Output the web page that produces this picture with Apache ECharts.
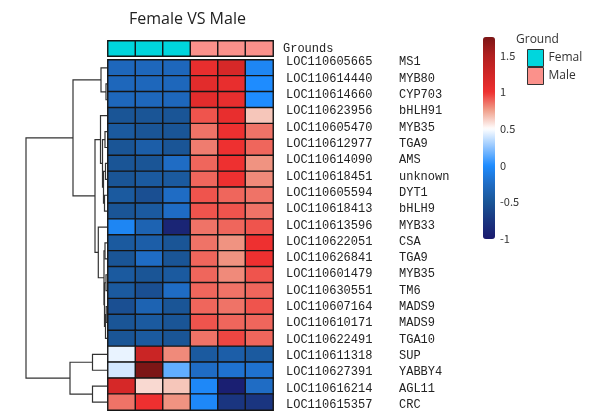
<!DOCTYPE html>
<html><head><meta charset="utf-8">
<script src="https://cdn.jsdelivr.net/npm/echarts@6/dist/echarts.min.js"></script>
<style>html,body{margin:0;padding:0;background:#fff}#c{width:600px;height:413px}</style>
</head><body><div id="c"></div>
<script>
// ---- data ----
const samples = ['F1', 'F2', 'F3', 'M1', 'M2', 'M3'];
const sampleGroups = ['Femal', 'Femal', 'Femal', 'Male', 'Male', 'Male'];
const groupNames = ['Femal', 'Male'];
const geneIds = ['LOC110605665','LOC110614440','LOC110614660','LOC110623956','LOC110605470','LOC110612977','LOC110614090','LOC110618451','LOC110605594','LOC110618413','LOC110613596','LOC110622051','LOC110626841','LOC110601479','LOC110630551','LOC110607164','LOC110610171','LOC110622491','LOC110611318','LOC110627391','LOC110616214','LOC110615357'];
const geneNames = ['MS1','MYB80','CYP703','bHLH91','MYB35','TGA9','AMS','unknown','DYT1','bHLH9','MYB33','CSA','TGA9','MYB35','TM6','MADS9','MADS9','TGA10','SUP','YABBY4','AGL11','CRC'];
const expr = [
  [-0.3, -0.3, -0.3, 1.05, 1.2, -0.05],
  [-0.3, -0.3, -0.3, 1.1, 1.05, 0.0],
  [-0.3, -0.3, -0.3, 1.1, 1.05, 0.0],
  [-0.5, -0.5, -0.5, 0.92, 1.05, 0.65],
  [-0.45, -0.5, -0.5, 0.85, 1.0, 0.85],
  [-0.5, -0.4, -0.5, 0.83, 1.0, 0.88],
  [-0.5, -0.5, -0.25, 0.88, 1.0, 0.78],
  [-0.5, -0.45, -0.45, 0.88, 1.0, 0.8],
  [-0.45, -0.55, -0.25, 0.92, 0.88, 0.85],
  [-0.5, -0.45, -0.25, 0.92, 0.92, 0.85],
  [-0.05, -0.35, -0.9, 0.85, 0.88, 0.92],
  [-0.45, -0.4, -0.5, 0.85, 0.78, 1.0],
  [-0.5, -0.25, -0.5, 0.88, 0.78, 1.0],
  [-0.45, -0.5, -0.45, 0.88, 0.8, 0.92],
  [-0.45, -0.55, -0.25, 0.88, 0.85, 0.88],
  [-0.55, -0.35, -0.5, 0.88, 0.85, 0.92],
  [-0.5, -0.45, -0.5, 0.92, 0.88, 0.88],
  [-0.5, -0.45, -0.5, 0.85, 0.95, 0.88],
  [0.45, 1.3, 0.8, -0.45, -0.4, -0.45],
  [0.4, 1.75, 0.15, -0.25, -0.2, -0.2],
  [1.2, 0.6, 0.65, -0.03, -0.95, -0.25],
  [0.85, 1.0, 0.78, -0.03, -0.75, -0.75]
];
// row dendrogram: leaves are row indices, h = merge height
const rowTree = {h: 8.1, c: [
  {h: 3.4, c: [
    {h: 0.6, c: [0, {h: 0.1, c: [1, 2]}]},
    {h: 1.2, c: [
      {h: 0.65, c: [3, {h: 0.45, c: [{h: 0.2, c: [4, 5]}, {h: 0.35, c: [{h: 0.15, c: [6, 7]}, {h: 0.25, c: [8, 9]}]}]}]},
      {h: 0.87, c: [10, {h: 0.3, c: [{h: 0.2, c: [11, 12]}, {h: 0.25, c: [{h: 0.1, c: [13, 14]}, {h: 0.15, c: [{h: 0.08, c: [15, 16]}, 17]}]}]}]}
    ]}
  ]},
  {h: 3.7, c: [{h: 1.45, c: [18, 19]}, {h: 1.45, c: [20, 21]}]}
]};
const scaleMin = -1, scaleMax = 1.75;
const scaleTicks = [-1, -0.5, 0, 0.5, 1, 1.5];
const scaleColors = ['#1a1a6e','#1a3580','#1a5596','#1f6cc4','#1e8cff','#90c4ff','#ffffff','#f0a08c','#ee3030','#d02626','#b02020','#7c1616'];
const groupColors = {Femal: '#00d6dd', Male: '#fb918b'};

// ---- build ----
const heatData = [];
expr.forEach((row, r) => row.forEach((v, c) => heatData.push([c, r, v])));

const segs = [];
function layout(node) {
  if (typeof node === 'number') return {y: node, h: 0};
  const a = layout(node.c[0]), b = layout(node.c[1]);
  segs.push([[a.h, a.y], [node.h, a.y], [node.h, b.y], [b.h, b.y]]);
  return {y: (a.y + b.y) / 2, h: node.h};
}
layout(rowTree);

const mono = 'Liberation Mono';
const hidden = {show: false};
const chart = echarts.init(document.getElementById('c'));
chart.setOption({
  animation: false,
  backgroundColor: '#fff',
  title: [
    {text: 'Female VS Male', left: 129, top: 11, padding: 0,
     textStyle: {fontSize: 16, fontWeight: 'normal', fontFamily: 'Open Sans', color: '#222'}},
    {text: 'Ground', left: 516, top: 34, padding: 0,
     textStyle: {fontSize: 12, fontWeight: 'normal', fontFamily: 'Open Sans', color: '#333'}}
  ],
  legend: {
    data: groupNames, orient: 'vertical', left: 527, top: 49, padding: 0,
    itemWidth: 16, itemHeight: 17, itemGap: 0, icon: 'rect', selectedMode: false,
    itemStyle: {borderColor: '#333', borderWidth: 1},
    textStyle: {fontSize: 12, fontFamily: 'Open Sans', color: '#333'}
  },
  visualMap: {
    type: 'continuous', seriesIndex: 0, min: scaleMin, max: scaleMax,
    calculable: false, hoverLink: false, show: true, orient: 'vertical',
    left: 483, top: 37, itemWidth: 12, itemHeight: 202, padding: 0,
    inRange: {color: scaleColors}
  },
  grid: [
    {left: 6, top: 60, width: 101, height: 350},
    {left: 108, top: 60, width: 165, height: 350},
    {left: 108, top: 41, width: 165, height: 15},
    {left: 108, top: 54, width: 165, height: 360},
    {left: 483, top: 37, width: 12, height: 202}
  ],
  xAxis: [
    {gridIndex: 0, type: 'value', min: 0, max: 10.1, inverse: true, show: false},
    {gridIndex: 1, type: 'category', data: samples, show: false},
    {gridIndex: 2, type: 'category', data: samples, show: false},
    {gridIndex: 3, type: 'category', data: samples, show: false},
    {gridIndex: 4, type: 'value', show: false}
  ],
  yAxis: [
    {gridIndex: 0, type: 'value', min: -0.5, max: 21.5, inverse: true, show: false},
    {gridIndex: 1, type: 'category', data: geneIds, inverse: true, show: false},
    {gridIndex: 2, type: 'category', data: ['Grounds'], position: 'right',
     axisLine: hidden, axisTick: hidden, splitLine: hidden,
     axisLabel: {margin: 10, fontSize: 12, fontFamily: mono, color: '#222'}},
    {gridIndex: 3, type: 'category', data: geneIds, inverse: true, position: 'right',
     axisLine: hidden, axisTick: hidden, splitLine: hidden,
     axisLabel: {margin: 13, interval: 0, color: '#222',
       formatter: (v, i) => '{a|' + v + '}{b|' + geneNames[i] + '}',
       rich: {a: {width: 113, fontSize: 12, fontFamily: mono, color: '#222'},
              b: {fontSize: 12, fontFamily: mono, color: '#222'}}}},
    {gridIndex: 4, type: 'value', min: scaleMin, max: scaleMax, position: 'right',
     axisLine: hidden, axisTick: hidden, splitLine: hidden,
     axisLabel: {customValues: scaleTicks, margin: 5, fontSize: 11, fontFamily: 'Noto Sans CJK SC', color: '#333'}}
  ],
  series: [
    {type: 'heatmap', xAxisIndex: 1, yAxisIndex: 1, data: heatData, silent: true,
     itemStyle: {borderColor: '#151515', borderWidth: 1.4}},
    ...groupNames.map(g => ({
      type: 'heatmap', name: g, xAxisIndex: 2, yAxisIndex: 2, silent: true,
      data: sampleGroups.map((s, c) => s === g ? [c, 0, 1] : null).filter(d => d),
      itemStyle: {color: groupColors[g], borderColor: '#151515', borderWidth: 1.4}
    })),
    {type: 'lines', coordinateSystem: 'cartesian2d', xAxisIndex: 0, yAxisIndex: 0,
     polyline: true, silent: true,
     lineStyle: {color: '#333', width: 1.2, opacity: 1},
     data: segs.map(c => ({coords: c}))}
  ]
});
</script></body></html>
